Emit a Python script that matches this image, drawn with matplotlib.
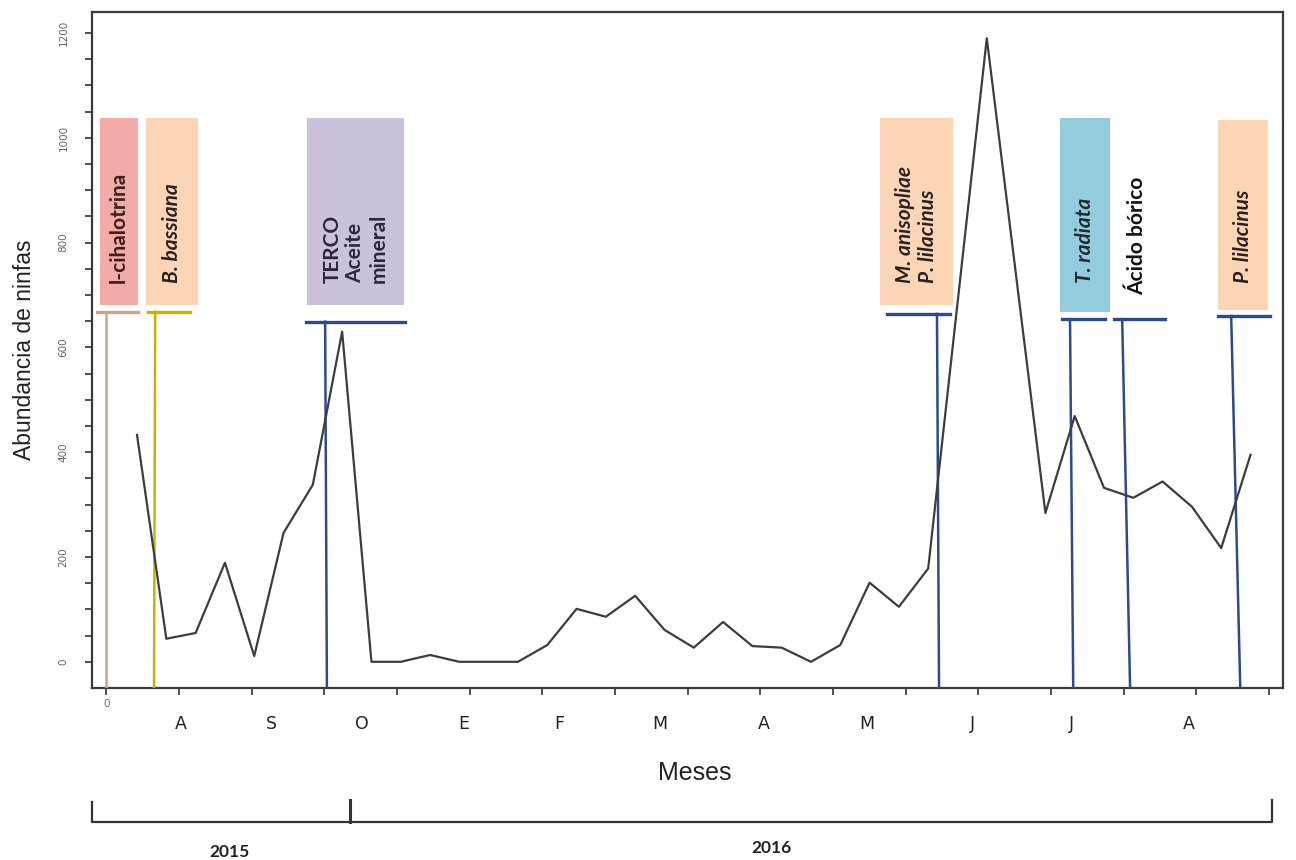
import numpy as np
import matplotlib
matplotlib.use('Agg')
import matplotlib.pyplot as plt
from matplotlib.patches import Rectangle
import matplotlib.transforms as mtransforms

# muestreos (indice) y abundancia de ninfas
muestreo = [0, 1, 2, 3, 4, 5, 6, 7, 8, 9, 10, 11, 12, 13, 14, 15, 16, 17, 18, 19,
            20, 21, 22, 23, 24, 25, 26, 27, 29, 31, 32, 33, 34, 35, 36, 37, 38]
abundancia = [433, 44, 55, 189, 11, 246, 338, 630, 0, 0, 13, 0, 0, 0, 32, 101, 86, 126, 61, 27,
              76, 30, 27, 0, 32, 151, 105, 178, 1190, 284, 469, 332, 313, 344, 296, 217, 395]

meses = ['A', 'S', 'O', 'E', 'F', 'M', 'A', 'M', 'J', 'J', 'A']
meses_pos = [1.48, 4.6, 7.68, 11.16, 14.4, 17.85, 21.4, 24.9, 28.5, 31.9, 35.9]

# tratamientos aplicados
trat_txt = ['l-cihalotrina', 'B. bassiana', 'TERCO\nAceite\nmineral',
            'M. anisopliae\nP. lilacinus', 'T. radiata', 'Ácido bórico', 'P. lilacinus']
trat_italic = [False, True, False, True, True, False, True]
trat_x_top = [-1.06, 0.62, 6.42, 27.30, 31.84, 33.62, 37.34]
trat_x_bot = [-1.06, 0.58, 6.48, 27.37, 31.95, 33.89, 37.65]
trat_bar_y = [668, 668, 649, 664, 654, 654, 660]
trat_bar_x = [(-1.37, 0.03), (0.38, 1.81), (5.77, 9.15), (25.6, 27.75),
              (31.57, 33.04), (33.34, 35.09), (36.89, 38.67)]
trat_box_x = [(-1.26, 0.03), (0.31, 2.08), (5.8, 9.11), (25.36, 27.85),
              (31.5, 33.2), None, (36.89, 38.60)]
trat_box_y = [(681, 1038), (681, 1038), (681, 1038), (681, 1038),
              (668, 1038), None, (671, 1034)]
trat_box_col = ['#f2aba6', '#fbd5b6', '#ccc1da', '#fbd5b6', '#93cddd', None, '#fbd5b6']
trat_line_col = ['#c9a58f', '#c8b10a', '#2f4a8a', '#2f4a8a', '#2f4a8a', '#2f4a8a', '#2f4a8a']
trat_txt_col = ['#3a1f1f', '#2a2020', '#2e2640', '#2a2020', '#1f2a30', '#111111', '#2a2020']
trat_txt_y = [722, 722, 722, 722, 722, 700, 722]

fig = plt.figure(figsize=(12.96, 8.6), dpi=100)
ax = fig.add_axes([0.071, 0.2, 0.919, 0.786])

ax.plot(muestreo, abundancia, color='#3d3d3d', lw=1.6, zorder=4)

for i in range(len(trat_txt)):
    if trat_box_x[i] is not None:
        x0, x1 = trat_box_x[i]
        y0, y1 = trat_box_y[i]
        ax.add_patch(Rectangle((x0, y0), x1 - x0, y1 - y0, color=trat_box_col[i], lw=0, zorder=1))
    ax.plot(trat_bar_x[i], [trat_bar_y[i], trat_bar_y[i]], color=trat_line_col[i], lw=2.4, zorder=3)
    ax.plot([trat_x_top[i], trat_x_bot[i]], [trat_bar_y[i], -50], color=trat_line_col[i], lw=1.8, zorder=3)
    if trat_box_x[i] is not None:
        xc = (trat_box_x[i][0] + trat_box_x[i][1]) / 2
    else:
        xc = (trat_bar_x[i][0] + trat_bar_x[i][1]) / 2 - 0.1
    ax.text(xc, trat_txt_y[i], trat_txt[i], rotation=90, ha='center', va='bottom',
            multialignment='left', fontsize=15, fontweight='bold',
            style='italic' if trat_italic[i] else 'normal',
            family=['Lato', 'DejaVu Sans'], color=trat_txt_col[i], linespacing=1.2, zorder=5)

ax.set_xlim(-1.536, 39.11)
ax.set_ylim(-50, 1240)

# eje y
ax.set_yticks(np.arange(0, 1201, 200))
ax.set_yticks(np.arange(0, 1201, 50), minor=True)
ax.set_yticklabels([str(v) for v in range(0, 1201, 200)], rotation=90, va='center',
                   fontsize=7.5, color='#666666')
ax.tick_params(axis='y', which='both', length=5, width=1.2, color='#333333', pad=12)
ax.set_ylabel('Abundancia de ninfas', fontsize=16.5, family='Liberation Sans', labelpad=16, color='#222222')

# eje x
xt = [-1.05 + 2.48 * k for k in range(17)]
ax.set_xticks(xt)
ax.set_xticklabels(['0'] + [''] * 16, fontsize=7.5, color='#666666')
ax.tick_params(axis='x', length=5, width=1.2, color='#333333', pad=3)
trans = mtransforms.blended_transform_factory(ax.transData, ax.transAxes)
for m, p in zip(meses, meses_pos):
    ax.text(p, -0.04, m, transform=trans, ha='center', va='top', fontsize=12.5,
            family='Liberation Sans Narrow', color='#222222')
fig.text(695 / 1296, 1 - 773 / 860, 'Meses', ha='center', va='center', fontsize=18,
         family='Liberation Sans', color='#222222')

for s in ax.spines.values():
    s.set_color('#3a3a3a')
    s.set_linewidth(1.6)

# corchetes de años
ov = fig.add_axes([0, 0, 1, 1])
ov.set_xlim(0, 1296)
ov.set_ylim(860, 0)
ov.axis('off')
ov.plot([92, 92, 1272, 1272], [802, 822, 822, 800], color='#333333', lw=1.6)
ov.plot([350, 350], [800, 822], color='#333333', lw=2.2)
ov.text(230, 852, '2015', ha='center', va='center', fontsize=12.5, fontweight='bold',
        family=['Lato', 'DejaVu Sans'], color='#222222')
ov.text(772, 848, '2016', ha='center', va='center', fontsize=12.5, fontweight='bold',
        family=['Lato', 'DejaVu Sans'], color='#222222')

fig.savefig('out.png', dpi=100, facecolor='white')
